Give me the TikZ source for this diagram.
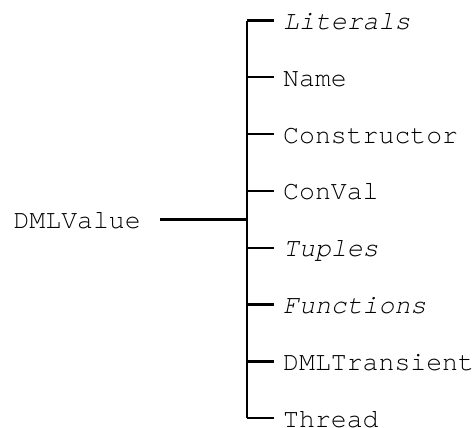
\documentclass[tikz,border=0pt]{standalone}
\usepackage{fontspec}
\setmonofont{texgyrecursor}[Extension=.otf,UprightFont=*-regular,ItalicFont=*-italic]
\usetikzlibrary{positioning}
\tikzstyle{every node}=[font=\ttfamily\fontsize{26.5}{30}\selectfont]
\tikzstyle{branch}=[line width=2.2pt]
\tikzstyle{leaf}=[inner xsep=9.5pt,inner ysep=0pt,text height=21pt,text depth=3pt,anchor=west]
\tikzstyle{rootnode}=[inner xsep=19pt,inner ysep=0pt,text height=21pt,text depth=3pt,anchor=east]

\begin{document}
\begin{tikzpicture}[x=1pt,y=-1pt,node distance=56.8pt]
\useasboundingbox (0,0) rectangle (475,428);
\node[rootnode] (dml) at (160,219.4) {DMLValue};
\coordinate (fork) at (247,219.4);
\node[leaf] (lit) at (273.5,20.6) {\textit{Literals}};
\node[leaf,below=of lit.west,anchor=west] (name) {Name};
\node[leaf,below=of name.west,anchor=west] (cons) {Constructor};
\node[leaf,below=of cons.west,anchor=west] (conval) {ConVal};
\node[leaf,below=of conval.west,anchor=west] (tup) {\textit{Tuples}};
\node[leaf,below=of tup.west,anchor=west] (fun) {\textit{Functions}};
\node[leaf,below=of fun.west,anchor=west] (trans) {DMLTransient};
\node[leaf,below=of trans.west,anchor=west] (thr) {Thread};
% trunk
\draw[branch,line width=2.6pt] (dml.east) -- (fork);
\draw[branch] (fork |- lit.west) -- (fork |- thr.west);
% branches
\draw[branch] (lit.west) -- (lit.west -| fork);
\draw[branch] (name.west) -- (name.west -| fork);
\draw[branch] (cons.west) -- (cons.west -| fork);
\draw[branch] (conval.west) -- (conval.west -| fork);
\draw[branch] (tup.west) -- (tup.west -| fork);
\draw[branch] (fun.west) -- (fun.west -| fork);
\draw[branch] (trans.west) -- (trans.west -| fork);
\draw[branch] (thr.west) -- (thr.west -| fork);
\end{tikzpicture}
\end{document}
